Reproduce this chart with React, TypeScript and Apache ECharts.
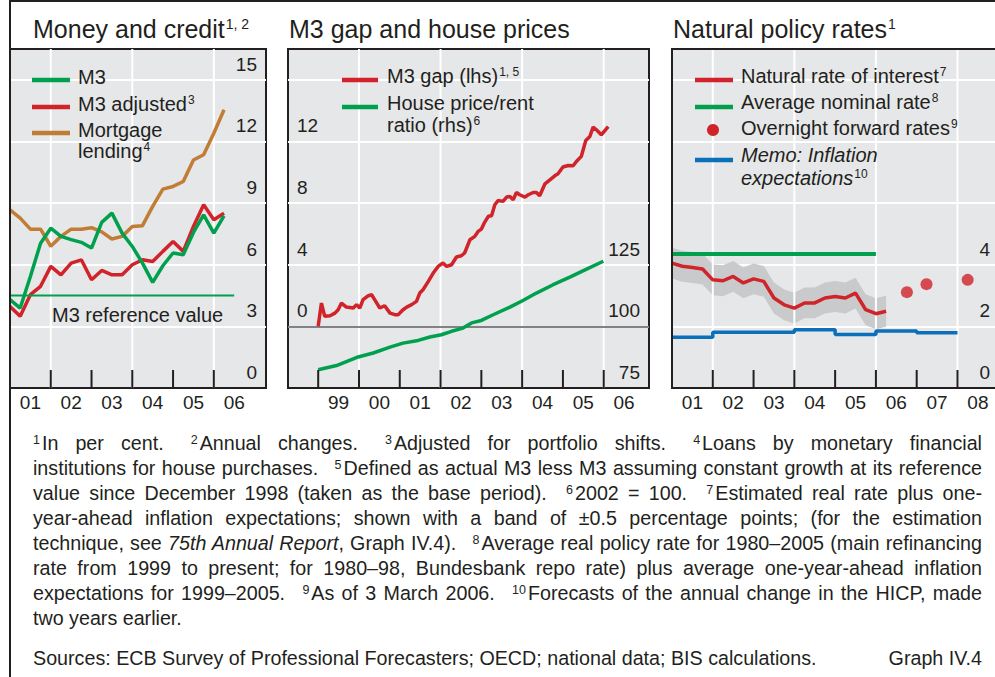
import React, { useEffect, useRef } from 'react';
import * as echarts from 'echarts';

const FONT = '"Liberation Sans", Arial, Helvetica, sans-serif';
const TEXT = '#231f20';
const BG = '#e6e7e8';
const RED = '#d1232a';
const GREEN = '#00a04f';
const ORANGE = '#c17c35';
const BLUE = '#0b6fba';
const BAND = '#c9cacc';

// ---------- Panel 1: Money and credit (quarterly, annual % changes) ----------
const p1Quarters = [2001.0, 2001.25, 2001.5, 2001.75, 2002.0, 2002.25, 2002.5, 2002.75, 2003.0, 2003.25, 2003.5, 2003.75, 2004.0, 2004.25, 2004.5, 2004.75, 2005.0, 2005.25, 2005.5, 2005.75, 2006.0, 2006.25];
const m3Growth = [4.3, 3.89, 5.43, 7.05, 7.78, 7.38, 7.22, 7.09, 6.81, 8.06, 8.51, 7.54, 6.89, 6.08, 5.14, 5.95, 6.57, 6.49, 7.57, 8.43, 7.54, 8.38];
const m3Adjusted = [3.97, 3.49, 4.54, 4.95, 5.92, 5.51, 6.08, 6.24, 5.27, 5.72, 5.51, 5.51, 6.0, 6.24, 6.16, 6.65, 7.13, 6.65, 7.86, 8.92, 8.19, 8.51];
const mortgageLending = [8.67, 8.27, 7.73, 7.73, 6.9, 7.38, 7.73, 7.73, 7.8, 7.6, 7.25, 7.38, 7.86, 7.9, 8.84, 9.68, 9.81, 10.05, 11.1, 11.35, 12.4, 13.54];
const m3RefDates = [2001.0, 2006.5];
const m3RefValues = [4.5, 4.5];
const p1XRange = [2001.0, 2007.28];
const p1YRange = [0, 16.5];
const p1YearTicks = [2002, 2003, 2004, 2005, 2006];
const p1GridYears = [2002, 2004, 2006];
const p1LabelPos = [2001.5, 2002.5, 2003.5, 2004.5, 2005.5, 2006.5];
const p1LabelText = ['01', '02', '03', '04', '05', '06'];
const p1YTicks = [0, 3, 6, 9, 12, 15];

// ---------- Panel 2: M3 gap and house prices ----------
const gapDates = [1999.0, 1999.08, 1999.16, 1999.29, 1999.41, 1999.49, 1999.57, 1999.69, 1999.86, 1999.94, 2000.02, 2000.1, 2000.23, 2000.31, 2000.41, 2000.51, 2000.63, 2000.76, 2000.88, 2000.96, 2001.08, 2001.17, 2001.29, 2001.41, 2001.49, 2001.57, 2001.7, 2001.82, 2001.94, 2002.06, 2002.15, 2002.27, 2002.39, 2002.51, 2002.59, 2002.72, 2002.84, 2002.92, 2003.0, 2003.08, 2003.17, 2003.25, 2003.33, 2003.41, 2003.53, 2003.62, 2003.7, 2003.78, 2003.86, 2003.94, 2004.07, 2004.15, 2004.27, 2004.35, 2004.43, 2004.56, 2004.68, 2004.8, 2004.88, 2005.0, 2005.13, 2005.25, 2005.33, 2005.45, 2005.56, 2005.66, 2005.74, 2005.82, 2005.94, 2006.11];
const m3Gap = [0, 1.51, 0.65, 0.69, 0.86, 1.08, 1.51, 1.25, 1.19, 1.41, 1.19, 1.73, 1.99, 2.05, 1.62, 1.19, 1.34, 0.86, 0.76, 0.76, 1.08, 1.25, 1.41, 1.62, 2.16, 2.38, 2.92, 3.46, 3.89, 4.11, 3.89, 4.0, 4.5, 4.58, 4.76, 5.62, 5.84, 6.16, 6.31, 6.75, 7.14, 7.18, 7.89, 8.17, 8.11, 8.39, 8.43, 8.22, 8.69, 8.54, 8.39, 8.54, 8.69, 8.69, 8.48, 9.25, 9.51, 9.77, 9.9, 10.34, 10.44, 10.42, 10.7, 11.03, 12.06, 12.32, 12.93, 12.76, 12.43, 12.97];
const houseDates = [1999.0, 1999.45, 1999.98, 2000.35, 2000.76, 2001.08, 2001.45, 2001.74, 2002.02, 2002.27, 2002.55, 2002.76, 2003.0, 2003.29, 2003.7, 2004.02, 2004.35, 2004.76, 2005.17, 2005.58, 2005.99];
const housePriceRent = [82.4, 84.1, 87.6, 89.2, 91.6, 93.2, 94.3, 95.7, 96.6, 98.0, 99.3, 101.4, 102.4, 104.7, 107.8, 110.5, 113.5, 116.9, 120.0, 123.2, 126.4];
const p2XRange = [1998.26, 2007.11];
const p2YRange = [-4, 18];
const p2RightRange = [75, 212.5];
const p2YearTicks = [1999, 2000, 2001, 2002, 2003, 2004, 2005, 2006];
const p2GridYears = [2000, 2002, 2004, 2006];
const p2LabelPos = [1999.5, 2000.5, 2001.5, 2002.5, 2003.5, 2004.5, 2005.5, 2006.5];
const p2LabelText = ['99', '00', '01', '02', '03', '04', '05', '06'];
const p2LeftTicks = [0, 4, 8, 12];
const p2RightTicks = [75, 100, 125];

// ---------- Panel 3: Natural policy rates ----------
const p3Quarters = [2001.0, 2001.25, 2001.5, 2001.75, 2002.0, 2002.25, 2002.5, 2002.75, 2003.0, 2003.25, 2003.5, 2003.75, 2004.0, 2004.25, 2004.5, 2004.75, 2005.0, 2005.25, 2005.5, 2005.75, 2006.0, 2006.25];
const naturalRate = [4.05, 3.95, 3.91, 3.86, 3.51, 3.48, 3.62, 3.41, 3.54, 3.46, 2.92, 2.7, 2.59, 2.76, 2.76, 2.92, 2.97, 2.92, 3.08, 2.54, 2.41, 2.49];
const bandHalfWidth = 0.5;
const avgNominalDates = [2001.0, 2006.0];
const avgNominalValues = [4.35, 4.35];
const forwardDates = [2006.76, 2007.24, 2008.25];
const forwardRates = [3.11, 3.37, 3.51];
const inflationYears = [2001, 2002, 2003, 2004, 2005, 2006, 2007, 2008];
const inflationExpect = [1.65, 1.81, 1.81, 1.89, 1.74, 1.85, 1.79, 1.79];
const p3XRange = [2001.0, 2008.92];
const p3YRange = [0, 11];
const p3YearTicks = [2002, 2003, 2004, 2005, 2006, 2007, 2008];
const p3GridYears = [2002, 2004, 2006, 2008];
const p3LabelPos = [2001.5, 2002.5, 2003.5, 2004.5, 2005.5, 2006.5, 2007.5, 2008.5];
const p3LabelText = ['01', '02', '03', '04', '05', '06', '07', '08'];
const p3YTicks = [0, 2, 4];

const pairs = (xs: number[], ys: number[]) => xs.map((x, i) => [x, ys[i]]);
const labelFont = { fontSize: 19, color: TEXT, fontFamily: FONT };

function mainX(gridIndex: number, range: number[], pos: number[], text: string[], zeroAxis?: number) {
  const axisLine: any = { show: false, onZero: true };
  if (zeroAxis != null) axisLine.onZeroAxisIndex = zeroAxis;
  return {
    type: 'value', gridIndex, min: range[0], max: range[1], position: 'bottom',
    axisLine, axisTick: { show: false },
    axisLabel: { show: true, customValues: pos, formatter: (v: number) => text[pos.indexOf(v)] ?? '', margin: 5, ...labelFont },
    splitLine: { show: false },
  };
}
function yAx(gridIndex: number, position: string, range: number[], interval: number, labels: number[], margin: number, split: boolean) {
  return {
    type: 'value', gridIndex, position, min: range[0], max: range[1], interval,
    axisLine: { show: false, onZero: false }, axisTick: { show: false },
    axisLabel: { inside: true, customValues: labels, margin, verticalAlign: 'bottom', lineHeight: 19, padding: [0, 0, 6, 0], ...labelFont },
    splitLine: { show: split, showMinLine: false, showMaxLine: false, lineStyle: { color: '#ffffff', width: 2 } },
  };
}

// thin vertical bars placed through the x scale: year grid lines (full height) or year ticks (fixed length from the bottom)
const vBars = (name: string, xIdx: number, yIdx: number, xs: number[], yRange: number[], color: string, z: number, length = 0) => ({
  type: 'custom', name, xAxisIndex: xIdx, yAxisIndex: yIdx, z, silent: true,
  data: xs.map((x) => [x, yRange[0]]),
  encode: { x: 0, y: 1 },
  renderItem: (params: any, api: any) => {
    const x = xs[params.dataIndex];
    const a = api.coord([x, yRange[0]]);
    const top = length > 0 ? a[1] - length : api.coord([x, yRange[1]])[1];
    const w = 1;
    return {
      type: 'polygon',
      shape: { points: [[a[0] - w, a[1]], [a[0] + w, a[1]], [a[0] + w, top], [a[0] - w, top]] },
      style: { fill: color },
    };
  },
});

const lineSeries = (name: string, x: number, y: number, data: any[], color: string, width = 3.5, extra: any = {}) => ({
  type: 'line', name, xAxisIndex: x, yAxisIndex: y, data, symbol: 'none', showSymbol: false,
  lineStyle: { color, width }, itemStyle: { color }, z: 4, ...extra,
});

function supText(x: number, y: number, main: string, sup: string, size: number, supSize: number, italic = false) {
  return {
    type: 'text', x, y, z: 10,
    style: {
      text: sup ? `{m|${main}}{s|${sup}}` : `{m|${main}}`,
      fill: TEXT, fontFamily: FONT, fontSize: size, verticalAlign: 'middle', align: 'left',
      rich: {
        m: { fontSize: size, fontFamily: FONT, fontStyle: italic ? 'italic' : 'normal', fill: TEXT },
        s: { fontSize: supSize, fontFamily: FONT, fill: TEXT, verticalAlign: 'top', padding: [0, 0, 0, 1] },
      },
    },
  };
}
const sample = (x1: number, x2: number, y: number, color: string) => ({
  type: 'line', z: 10, shape: { x1, y1: y, x2, y2: y }, style: { stroke: color, lineWidth: 4.5 },
});

const graphic: any[] = [
  { type: 'line', z: 20, shape: { x1: 10, y1: 0, x2: 10, y2: 677 }, style: { stroke: TEXT, lineWidth: 2 } },
  { type: 'line', z: 20, shape: { x1: 9, y1: 1, x2: 995, y2: 1 }, style: { stroke: TEXT, lineWidth: 2 } },
  // open frame of panel 3 (its right side runs off the page)
  { type: 'polyline', z: 20, shape: { points: [[997, 49], [672, 49], [672, 388], [997, 388]] }, style: { stroke: TEXT, lineWidth: 2, fill: 'none' } },
  supText(33, 29, 'Money and credit', '1, 2', 25, 14),
  supText(289, 29, 'M3 gap and house prices', '', 25, 14),
  supText(673, 29, 'Natural policy rates', '1', 25, 14),
  // panel 1 legend
  sample(32, 70, 80, GREEN), supText(78, 77, 'M3', '', 20, 12),
  sample(32, 70, 107, RED), supText(78, 104, 'M3 adjusted', '3', 20, 12),
  sample(32, 70, 133, ORANGE), supText(78, 130, 'Mortgage', '', 20, 12), supText(78, 151, 'lending', '4', 20, 12),
  supText(52, 315, 'M3 reference value', '', 20, 12),
  // panel 2 legend
  sample(342, 378, 80, RED), supText(387, 76, 'M3 gap (lhs)', '1, 5', 20, 12),
  sample(342, 378, 107, GREEN), supText(387, 103, 'House price/rent', '', 20, 12), supText(387, 125, 'ratio (rhs)', '6', 20, 12),
  // panel 3 legend
  sample(695, 733, 80, RED), supText(741, 76, 'Natural rate of interest', '7', 20, 12),
  sample(695, 733, 107, GREEN), supText(741, 102, 'Average nominal rate', '8', 20, 12),
  { type: 'circle', z: 10, shape: { cx: 713, cy: 130, r: 6 }, style: { fill: RED } },
  supText(741, 128, 'Overnight forward rates', '9', 20, 12),
  sample(695, 733, 160, BLUE), supText(741, 155, 'Memo: Inflation', '', 20, 12, true), supText(741, 178, 'expectations', '10', 20, 12, true),
];

const option: any = {
  animation: false,
  backgroundColor: '#ffffff',
  textStyle: { fontFamily: FONT },
  grid: [
    { left: 10, top: 49, width: 256, height: 339, show: true, backgroundColor: BG, borderColor: TEXT, borderWidth: 2, containLabel: false, outerBoundsMode: 'none' },
    { left: 288, top: 49, width: 361, height: 339, show: true, backgroundColor: BG, borderColor: TEXT, borderWidth: 2, containLabel: false, outerBoundsMode: 'none' },
    { left: 672, top: 49, width: 323, height: 339, show: true, backgroundColor: BG, borderColor: BG, borderWidth: 0, containLabel: false, outerBoundsMode: 'none' },
  ],
  xAxis: [
    mainX(0, p1XRange, p1LabelPos, p1LabelText),
    mainX(1, p2XRange, p2LabelPos, p2LabelText, 2),
    mainX(2, p3XRange, p3LabelPos, p3LabelText),
  ],
  yAxis: [
    yAx(0, 'right', p1YRange, 3, p1YTicks, 9, true),
    yAx(1, 'left', p2YRange, 4, p2LeftTicks, 9, true),
    yAx(1, 'right', p2RightRange, 25, p2RightTicks, 9, false),
    yAx(2, 'right', p3YRange, 2, p3YTicks, 5, true),
  ],
  graphic,
  series: [
    vBars('grid1', 0, 0, p1GridYears, p1YRange, '#ffffff', 2),
    vBars('grid2', 1, 1, p2GridYears, p2YRange, '#ffffff', 2),
    vBars('grid3', 2, 3, p3GridYears, p3YRange, '#ffffff', 2),
    vBars('ticks1', 0, 0, p1YearTicks, p1YRange, TEXT, 6, 18),
    vBars('ticks2', 1, 1, p2YearTicks, p2YRange, TEXT, 6, 18),
    vBars('ticks3', 2, 3, p3YearTicks, p3YRange, TEXT, 6, 18),
    lineSeries('Mortgage lending', 0, 0, pairs(p1Quarters, mortgageLending), ORANGE),
    lineSeries('M3 adjusted', 0, 0, pairs(p1Quarters, m3Adjusted), RED),
    lineSeries('M3', 0, 0, pairs(p1Quarters, m3Growth), GREEN),
    lineSeries('M3 reference value', 0, 0, pairs(m3RefDates, m3RefValues), GREEN, 2),
    lineSeries('M3 gap', 1, 1, pairs(gapDates, m3Gap), RED, 3.5, {
      markLine: {
        silent: true, symbol: 'none', z: 3, label: { show: false }, emphasis: { disabled: true },
        lineStyle: { color: '#58595b', width: 1.5, type: 'solid' },
        data: [{ yAxis: 0 }],
      },
    }),
    lineSeries('House price/rent ratio', 1, 2, pairs(houseDates, housePriceRent), GREEN),
    {
      type: 'custom', name: 'band', xAxisIndex: 2, yAxisIndex: 3, z: 1, silent: true,
      data: pairs(p3Quarters, naturalRate),
      encode: { x: 0, y: 1 },
      renderItem: (params: any, api: any) => {
        if (params.dataIndex !== 0) return null;
        const upper = p3Quarters.map((x, i) => api.coord([x, naturalRate[i] + bandHalfWidth]));
        const lower = p3Quarters.map((x, i) => api.coord([x, naturalRate[i] - bandHalfWidth])).reverse();
        return { type: 'polygon', shape: { points: upper.concat(lower) }, style: { fill: BAND } };
      },
    },
    lineSeries('Natural rate of interest', 2, 3, pairs(p3Quarters, naturalRate), RED),
    lineSeries('Average nominal rate', 2, 3, pairs(avgNominalDates, avgNominalValues), GREEN, 4),
    {
      type: 'scatter', name: 'Overnight forward rates', xAxisIndex: 2, yAxisIndex: 3,
      data: pairs(forwardDates, forwardRates), symbol: 'circle', symbolSize: 12, itemStyle: { color: RED }, z: 4,
    },
    lineSeries('Inflation expectations', 2, 3, pairs(inflationYears, inflationExpect), BLUE, 3.5, { step: 'end' }),
  ],
};

const Sup = ({ c }: { c: string }) => (
  <span style={{ fontSize: 12.5, position: 'relative', top: -6, marginRight: 2 }}>{c}</span>
);
const Gap = () => <span style={{ display: 'inline-block', width: 10 }} />;
const just: React.CSSProperties = { textAlign: 'justify', textAlignLast: 'justify', whiteSpace: 'nowrap', height: 25 };

function Footnotes() {
  return (
    <div style={{ position: 'absolute', left: 33, top: 430.7, width: 949, fontFamily: FONT, fontSize: 19.7, lineHeight: '25px', color: TEXT }}>
      <div style={just}><Sup c="1" />In per cent. <Gap /><Sup c="2" />Annual changes. <Gap /><Sup c="3" />Adjusted for portfolio shifts. <Gap /><Sup c="4" />Loans by monetary financial</div>
      <div style={just}>institutions for house purchases. <Gap /><Sup c="5" />Defined as actual M3 less M3 assuming constant growth at its reference</div>
      <div style={just}>value since December 1998 (taken as the base period). <Gap /><Sup c="6" />2002 = 100. <Gap /><Sup c="7" />Estimated real rate plus one-</div>
      <div style={just}>year-ahead inflation expectations; shown with a band of ±0.5 percentage points; (for the estimation</div>
      <div style={just}>technique, see <i>75th Annual Report</i>, Graph IV.4). <Gap /><Sup c="8" />Average real policy rate for 1980–2005 (main refinancing</div>
      <div style={just}>rate from 1999 to present; for 1980–98, Bundesbank repo rate) plus average one-year-ahead inflation</div>
      <div style={just}>expectations for 1999–2005. <Gap /><Sup c="9" />As of 3 March 2006. <Gap /><Sup c="10" />Forecasts of the annual change in the HICP, made</div>
      <div style={{ height: 25, whiteSpace: 'nowrap' }}>two years earlier.</div>
      <div style={{ marginTop: 15, height: 25, display: 'flex', justifyContent: 'space-between', whiteSpace: 'nowrap' }}>
        <span>Sources: ECB Survey of Professional Forecasters; OECD; national data; BIS calculations.</span>
        <span>Graph IV.4</span>
      </div>
    </div>
  );
}

export default function App() {
  const ref = useRef<HTMLDivElement>(null);
  useEffect(() => {
    if (!ref.current) return;
    const chart = echarts.init(ref.current, null, { renderer: 'svg', width: 995, height: 677 });
    chart.setOption(option);
    return () => chart.dispose();
  }, []);
  return (
    <div style={{ position: 'fixed', left: 0, top: 0, width: 995, height: 677, background: '#fff', overflow: 'hidden' }}>
      <div ref={ref} style={{ position: 'absolute', left: 0, top: 0, width: 995, height: 677 }} />
      <Footnotes />
    </div>
  );
}
